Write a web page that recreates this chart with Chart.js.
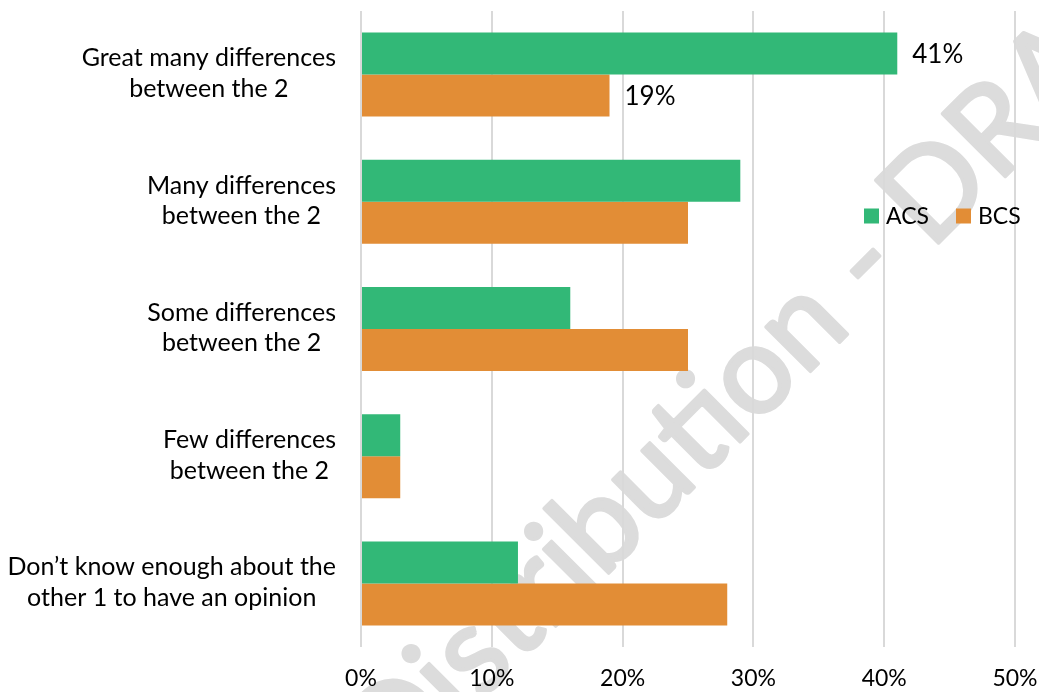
<!DOCTYPE html>
<html>
<head>
<meta charset="utf-8">
<script src="https://cdn.jsdelivr.net/npm/chart.js@4/dist/chart.umd.min.js"></script>
<style>
  html, body { margin: 0; padding: 0; background: #ffffff; }
  #wrap { width: 1039px; height: 692px; position: relative; }
</style>
</head>
<body>
<div id="wrap"><canvas id="chart" width="1039" height="692"></canvas></div>
<script>
// Chart data
const categories = [
    ['Great many differences', 'between the 2'],
    ['Many differences', 'between the 2'],
    ['Some differences', 'between the 2'],
    ['Few differences', 'between the 2'],
    ['Don\u2019t know enough about the', 'other 1 to have an opinion']
];
const seriesNames = ['ACS', 'BCS'];
const acsValues = [41, 29, 16, 3, 12];
const bcsValues = [19, 25, 25, 3, 28];
const xTicks = [0, 10, 20, 30, 40, 50];
const labelledCategories = [0]; // only the first group carries value labels
const watermarkText = 'Distribution - DRAFT';

const GREEN = '#32b877';
const ORANGE = '#e28d36';
const FONT = 'Lato, sans-serif';

Chart.defaults.font.family = FONT;
Chart.defaults.color = '#000000';

// Faint diagonal watermark behind everything
const watermarkPlugin = {
    id: 'watermark',
    beforeDraw(chart) {
        const ctx = chart.ctx;
        ctx.save();
        ctx.font = '124px ' + FONT;
        ctx.fillStyle = '#dcdcdc';
        ctx.strokeStyle = '#dcdcdc';
        ctx.lineWidth = 3.5;
        ctx.lineJoin = 'round';
        ctx.textBaseline = 'alphabetic';
        ctx.textAlign = 'left';
        const dashIdx = watermarkText.indexOf('-');
        const before = ctx.measureText(watermarkText.slice(0, dashIdx)).width;
        const dashW = ctx.measureText('-').width;
        ctx.translate(869, 267);
        ctx.rotate(-Math.PI / 4);
        const x0 = -(before + dashW / 2);
        const y0 = 124 * 0.26;
        ctx.fillText(watermarkText, x0, y0);
        ctx.strokeText(watermarkText, x0, y0);
        ctx.restore();
    }
};

// Category labels: each label's lines centered on each other, block right-aligned
const categoryLabels = {
    id: 'categoryLabels',
    afterDraw(chart) {
        const ctx = chart.ctx;
        const yScale = chart.scales.y;
        const right = 336;
        const lineH = 30.5;
        ctx.save();
        ctx.font = '25px ' + FONT;
        ctx.fillStyle = '#000000';
        ctx.textAlign = 'center';
        ctx.textBaseline = 'middle';
        categories.forEach((lines, i) => {
            const widest = Math.max(...lines.map(l => ctx.measureText(l).width));
            const cx = right - widest / 2;
            const cy = yScale.getPixelForValue(i) - 1;
            const top = cy - (lines.length - 1) * lineH / 2;
            lines.forEach((l, j) => ctx.fillText(l, cx, top + j * lineH));
        });
        ctx.restore();
    }
};

// Value labels at bar ends
const valueLabels = {
    id: 'valueLabels',
    afterDatasetsDraw(chart) {
        const ctx = chart.ctx;
        ctx.save();
        ctx.font = '26px ' + FONT;
        ctx.fillStyle = '#000000';
        ctx.textAlign = 'left';
        ctx.textBaseline = 'middle';
        chart.data.datasets.forEach((ds, di) => {
            const meta = chart.getDatasetMeta(di);
            labelledCategories.forEach(ci => {
                const bar = meta.data[ci];
                ctx.fillText(ds.data[ci] + '%', bar.x + 15, bar.y + 1);
            });
        });
        ctx.restore();
    }
};

// Legend sitting inside the plot area on the right
const insideLegend = {
    id: 'insideLegend',
    afterDraw(chart) {
        const ctx = chart.ctx;
        const y = 216;
        const xs = [864, 956];
        ctx.save();
        ctx.font = '23px ' + FONT;
        ctx.textAlign = 'left';
        ctx.textBaseline = 'middle';
        chart.data.datasets.forEach((ds, i) => {
            ctx.fillStyle = ds.backgroundColor;
            ctx.fillRect(xs[i], y - 7.5, 15, 15);
            ctx.fillStyle = '#000000';
            ctx.fillText(ds.label, xs[i] + 22, y + 1);
        });
        ctx.restore();
    }
};

const ctx = document.getElementById('chart').getContext('2d');
new Chart(ctx, {
    type: 'bar',
    data: {
        labels: categories,
        datasets: [
            { label: seriesNames[0], data: acsValues, backgroundColor: GREEN },
            { label: seriesNames[1], data: bcsValues, backgroundColor: ORANGE }
        ]
    },
    options: {
        indexAxis: 'y',
        responsive: false,
        animation: false,
        maintainAspectRatio: false,
        layout: { padding: { top: 11, right: 0, left: 0, bottom: 0 } },
        datasets: {
            bar: { categoryPercentage: 0.66, barPercentage: 1.0, borderWidth: 0 }
        },
        plugins: {
            legend: { display: false },
            tooltip: { enabled: false }
        },
        scales: {
            x: {
                min: 0,
                max: 50,
                afterBuildTicks: scale => { scale.ticks = xTicks.map(v => ({ value: v })); },
                afterFit: scale => {
                    scale.height = 45;
                    scale.paddingRight = 24;
                },
                grid: { color: '#d9d9d9', lineWidth: 2, drawTicks: false },
                border: { display: false },
                ticks: {
                    padding: 18,
                    font: { size: 23 },
                    color: '#000000',
                    callback: v => v + '%'
                }
            },
            y: {
                afterFit: scale => { scale.width = 361; },
                grid: { display: false },
                border: { display: false },
                ticks: { display: false }
            }
        }
    },
    plugins: [watermarkPlugin, categoryLabels, valueLabels, insideLegend]
});
</script>
</body>
</html>
